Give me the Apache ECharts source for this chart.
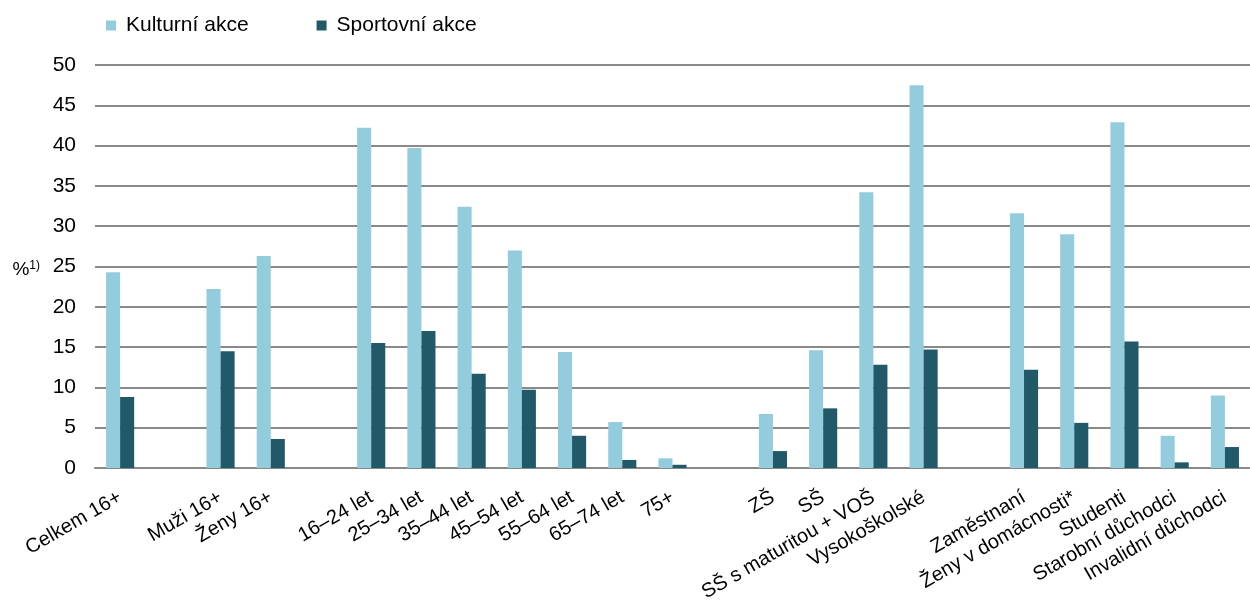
<!DOCTYPE html>
<html>
<head>
<meta charset="utf-8">
<script src="https://cdn.jsdelivr.net/npm/echarts@6/dist/echarts.min.js"></script>
<style>
html,body{margin:0;padding:0;background:#fff;}
#chart{width:1250px;height:610px;}
</style>
</head>
<body>
<div id="chart"></div>
<script>
// skupiny oddelene prazdnou kategorii
var categories = ['Celkem 16+', '', 'Muži 16+', 'Ženy 16+', '',
    '16–24 let', '25–34 let', '35–44 let', '45–54 let', '55–64 let', '65–74 let', '75+', '',
    'ZŠ', 'SŠ', 'SŠ s maturitou + VOŠ', 'Vysokoškolské', '',
    'Zaměstnaní', 'Ženy v domácnosti*', 'Studenti', 'Starobní důchodci', 'Invalidní důchodci'];
var kulturni = [24.3, null, 22.2, 26.3, null,
    42.2, 39.7, 32.4, 27.0, 14.4, 5.7, 1.2, null,
    6.7, 14.6, 34.2, 47.5, null,
    31.6, 29.0, 42.9, 4.0, 9.0];
var sportovni = [8.8, null, 14.5, 3.6, null,
    15.5, 17.0, 11.7, 9.7, 4.0, 1.0, 0.4, null,
    2.1, 7.4, 12.8, 14.7, null,
    12.2, 5.6, 15.7, 0.7, 2.6];
var seriesNames = ['Kulturní akce', 'Sportovní akce'];

var chart = echarts.init(document.getElementById('chart'));
var font = 'Liberation Sans, Arial, sans-serif';

chart.setOption({
    animation: false,
    color: ['#93cddd', '#215968'],
    textStyle: {fontFamily: font},
    legend: {
        data: seriesNames,
        left: 101,
        top: 10,
        icon: 'rect',
        itemWidth: 10,
        itemHeight: 10,
        itemGap: 68,
        textStyle: {fontSize: 21, color: '#000', fontFamily: font, padding: [0, 0, 0, 5]}
    },
    grid: {left: 95, right: 0, top: 65, bottom: 142},
    xAxis: {
        type: 'category',
        data: categories,
        axisTick: {show: false},
        axisLine: {lineStyle: {color: '#898989', width: 2}},
        axisLabel: {
            interval: 0,
            rotate: 30,
            margin: 28,
            fontSize: 20,
            color: '#000',
            fontFamily: font
        }
    },
    yAxis: {
        type: 'value',
        min: 0,
        max: 50,
        interval: 5,
        name: '%{sup|1)}',
        nameLocation: 'middle',
        nameRotate: 0,
        nameGap: 55,
        nameTextStyle: {
            fontSize: 19,
            color: '#000',
            fontFamily: font,
            padding: [6, 0, 0, 0],
            rich: {sup: {fontSize: 12, verticalAlign: 'top', padding: [0, 0, 8, 0], color: '#000'}}
        },
        axisLine: {show: false},
        axisTick: {show: false},
        axisLabel: {fontSize: 21, color: '#000', margin: 19, fontFamily: font},
        splitLine: {lineStyle: {color: '#898989', width: 2}}
    },
    series: [
        {
            name: seriesNames[0],
            type: 'bar',
            data: kulturni,
            barGap: '0%',
            barCategoryGap: '44%'
        },
        {
            name: seriesNames[1],
            type: 'bar',
            data: sportovni,
            barGap: '0%',
            barCategoryGap: '44%'
        }
    ]
});
</script>
</body>
</html>
